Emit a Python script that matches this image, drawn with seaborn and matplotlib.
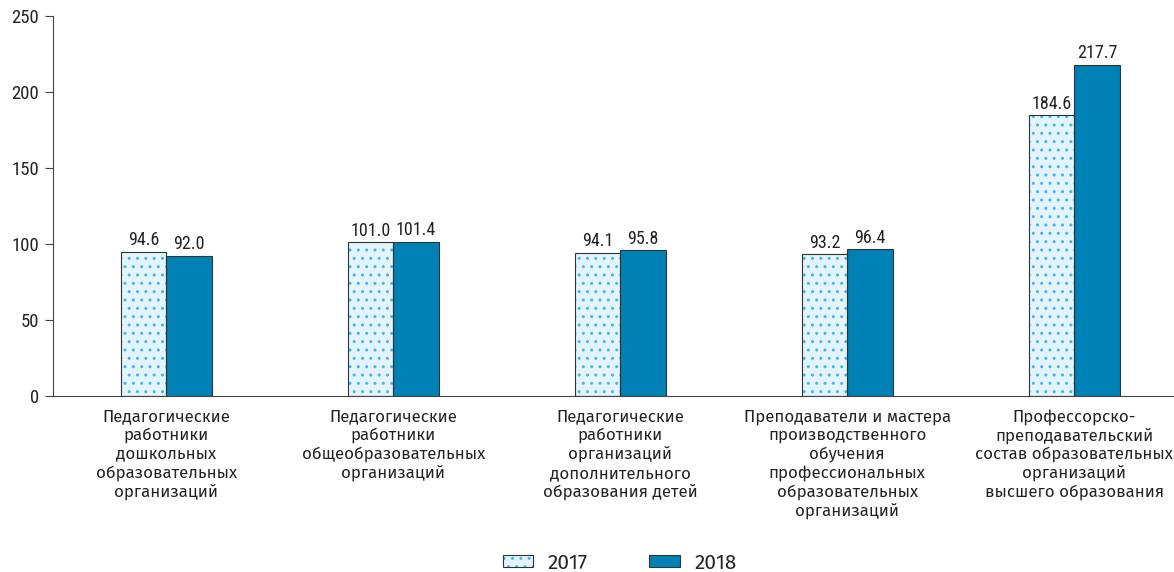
import matplotlib
matplotlib.use("Agg")
import matplotlib.pyplot as plt
from matplotlib.patches import Patch, Rectangle
from matplotlib.legend_handler import HandlerTuple
import seaborn as sns
import pandas as pd

categories = [
    "Педагогические\nработники\nдошкольных\nобразовательных\nорганизаций",
    "Педагогические\nработники\nобщеобразовательных\nорганизаций",
    "Педагогические\nработники\nорганизаций\nдополнительного\nобразования детей",
    "Преподаватели и мастера\nпроизводственного\nобучения\nпрофессиональных\nобразовательных\nорганизаций",
    "Профессорско-\nпреподавательский\nсостав образовательных\nорганизаций\nвысшего образования",
]
years = ["2017", "2018"]
values_2017 = [94.6, 101.0, 94.1, 93.2, 184.6]
values_2018 = [92.0, 101.4, 95.8, 96.4, 217.7]
y_ticks = [0, 50, 100, 150, 200, 250]

num_font = ["Roboto Condensed", "Archivo Narrow", "Liberation Sans", "DejaVu Sans"]
cat_font = ["Fira Sans", "Noto Sans", "DejaVu Sans"]

fill_2017 = "#e3f4fc"
dots_2017 = "#45b8e8"
fill_2018 = "#0081b5"
edge = "#333333"
text_color = "#222222"

df = pd.DataFrame({
    "category": categories * 2,
    "year": [years[0]] * len(categories) + [years[1]] * len(categories),
    "value": values_2017 + values_2018,
})

sns.set_style("white")
fig = plt.figure(figsize=(11.74, 5.72), dpi=100)
ax = fig.add_axes([0.045, 0.3077, 0.955, 0.6643])

sns.barplot(data=df, x="category", y="value", hue="year", order=categories,
            hue_order=years, palette=[fill_2017, fill_2018], saturation=1,
            width=0.4, edgecolor=edge, linewidth=0.8, legend=False, ax=ax, zorder=2)

# dotted fill for 2017 bars: hatch drawn in light blue, outline redrawn on top
for bar in ax.containers[0]:
    bar.set_edgecolor(dots_2017)
    bar.set_linewidth(0)
    bar.set_hatch("..")
    ax.add_patch(Rectangle(bar.get_xy(), bar.get_width(), bar.get_height(),
                           fill=False, edgecolor=edge, linewidth=0.8, zorder=3))

for cont, vals in zip(ax.containers, [values_2017, values_2018]):
    ax.bar_label(cont, labels=[f"{v:.1f}" for v in vals], padding=2,
                 fontsize=13, family=num_font, color=text_color)

ax.set_xticks(range(len(categories)))
ax.set_xticklabels(categories, family=cat_font, fontsize=12.1, color=text_color,
                   linespacing=1.21)
ax.tick_params(axis="x", which="major", length=0, pad=9)
ax.set_xticks([i - 0.5 for i in range(len(categories) + 1)], minor=True)
ax.tick_params(axis="x", which="minor", length=4, width=0.8, color="#444444", direction="out")

ax.set_yticks(y_ticks)
ax.set_yticklabels([str(t) for t in y_ticks], family=num_font, fontsize=13.5, color=text_color)
ax.tick_params(axis="y", length=6, width=0.8, color="#444444", direction="out", pad=4, left=True)

ax.set_ylim(0, 250)
ax.set_xlim(-0.5, 4.44)

ax.set_xlabel("")
ax.set_ylabel("")
for side in ["top", "right"]:
    ax.spines[side].set_visible(False)
for side in ["left", "bottom"]:
    ax.spines[side].set_color("#444444")
    ax.spines[side].set_linewidth(0.8)

h2017 = (Patch(facecolor=fill_2017, edgecolor=dots_2017, linewidth=0, hatch=".."),
         Patch(facecolor="none", edgecolor=edge, linewidth=0.8))
h2018 = Patch(facecolor=fill_2018, edgecolor=edge, linewidth=0.8)
fig.legend([h2017, h2018], years, handler_map={tuple: HandlerTuple(ndivide=1, pad=0)},
           loc="center", bbox_to_anchor=(0.528, 0.016), ncol=2, frameon=False,
           prop={"family": cat_font, "size": 15}, handlelength=1.45, handleheight=0.52,
           columnspacing=2.95, handletextpad=0.72, borderpad=0.1)

fig.savefig("out.png", dpi=100)
